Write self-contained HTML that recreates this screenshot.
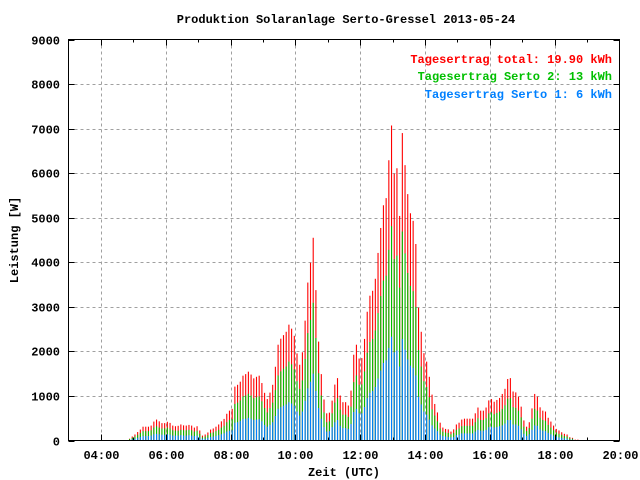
<!DOCTYPE html>
<html><head><meta charset="utf-8"><style>
html,body{margin:0;padding:0;background:#fff;}
svg{display:block;font-family:"Liberation Mono","DejaVu Sans Mono",monospace;font-weight:bold;}
</style></head><body>
<svg id="chart" width="640" height="480" viewBox="0 0 640 480" xmlns="http://www.w3.org/2000/svg">
<rect x="0" y="0" width="640" height="480" fill="#fff"/>
<text x="346" y="23" font-size="12" text-anchor="middle">Produktion Solaranlage Serto-Gressel 2013-05-24</text>
<g id="grid"></g>
<g id="bars"></g>
<rect x="68.5" y="39.5" width="551" height="401" fill="none" stroke="#000" stroke-width="1"/>
<g id="axes"></g>
<text x="344" y="476" font-size="12" text-anchor="middle">Zeit (UTC)</text>
<text x="18" y="240" font-size="12" text-anchor="middle" transform="rotate(-90 18 240)">Leistung [W]</text>
<text x="612" y="63" font-size="12" text-anchor="end" fill="#ff0000">Tagesertrag total: 19.90 kWh</text>
<text x="612" y="80" font-size="12" text-anchor="end" fill="#00c000">Tagesertrag Serto 2: 13 kWh</text>
<text x="612" y="98" font-size="12" text-anchor="end" fill="#0080ff">Tagesertrag Serto 1: 6 kWh</text>
</svg>
<script>
const startMinute = 293;
const stepMinutes = 5;
const yTicks = [0,1000,2000,3000,4000,5000,6000,7000,8000,9000];
const xTickLabels = ["04:00","06:00","08:00","10:00","12:00","14:00","16:00","18:00","20:00"];
const totalW = [40,90,135,190,245,310,310,310,335,425,470,430,390,390,420,395,335,320,330,360,340,335,350,335,290,320,225,110,135,180,245,270,310,360,430,485,600,670,710,
1210,1250,1320,1455,1490,1545,1480,1395,1430,1455,1290,1070,930,1075,1250,1655,2150,2285,2365,2440,2600,2510,2350,1955,1700,1980,2690,3545,3990,4550,3375,2220,1490,920,610,625,895,1255,1400,
1010,860,860,785,1120,1925,2150,
1840,1850,2280,2890,3250,3360,3630,4210,4770,5280,5440,6290,7070,5990,6110,5040,6900,6180,5530,5100,4930,4410,2980,2440,1960,1770,1430,1030,820,630,400,290,260,250,200,250,360,400,470,490,490,490,490,
610,740,670,670,740,900,930,870,910,955,1045,1160,1380,1400,1100,1080,985,760,450,310,410,720,1045,985,745,670,650,510,425,335,260,225,185,150,135,75,60,20,20];
const serto12W = [30,60,90,130,170,210,210,210,230,290,320,290,270,270,290,270,230,220,220,240,230,230,240,230,200,220,150,70,90,120,170,180,210,240,290,330,410,460,480,
820,850,900,990,1010,1050,1010,950,970,990,880,730,630,730,850,1130,1460,1550,1610,1660,1770,1710,1600,1330,1160,1350,1830,2410,2710,3090,2300,1510,1010,630,410,430,610,850,950,
690,580,580,530,760,1310,1460,
1250,1260,1550,1970,2210,2280,2470,2860,3240,3590,3700,4280,4810,4070,4150,3430,4690,4200,3760,3470,3350,3000,2030,1660,1330,1200,970,700,560,430,270,200,180,170,140,170,240,270,320,330,330,330,330,
410,500,460,460,500,610,630,590,620,650,710,790,940,950,750,730,670,520,310,210,280,490,710,670,510,460,440,350,290,230,180,150,130,100,90,50,40,10,10];
const serto1W = [10,30,40,60,80,100,100,100,110,140,150,140,130,130,140,130,110,110,110,120,110,110,120,110,100,110,70,40,40,60,80,90,100,120,140,160,200,220,230,
400,410,440,480,490,510,490,460,470,480,430,350,310,350,410,550,710,750,780,810,860,830,780,650,560,650,890,1170,1320,1500,1110,730,490,300,200,210,300,410,460,
330,280,280,260,370,640,710,
610,610,750,950,1070,1110,1200,1390,1570,1740,1800,2080,2330,1980,2020,1660,2280,2040,1820,1680,1630,1460,980,810,650,580,470,340,270,210,130,100,90,80,70,80,120,130,160,160,160,160,160,
200,240,220,220,240,300,310,290,300,320,340,380,460,460,360,360,330,250,150,100,140,240,340,330,250,220,210,170,140,110,90,70,60,50,40,20,20,10,10];

const NS = "http://www.w3.org/2000/svg";
const plotL = 68.5, plotR = 619.5, plotT = 39.5, plotB = 440.5;
const xMin = 180, xMax = 1200;
const yMax = 9000;
function xScale(min){ return plotL + (min - xMin) / (xMax - xMin) * (plotR - plotL); }
function yScale(v){ return plotB - v / yMax * (plotB - plotT); }
function mk(tag, attrs, parent){ const e = document.createElementNS(NS, tag); for (const k in attrs) e.setAttribute(k, attrs[k]); parent.appendChild(e); return e; }

const grid = document.getElementById('grid');
const axes = document.getElementById('axes');
yTicks.forEach(function(v){
  const y = Math.round(yScale(v)) + 0.5;
  if (v > 0 && v < yMax) {
    const g = mk('line', {x1: plotL, x2: plotR, y1: y, y2: y, stroke: '#a0a0a0', 'stroke-dasharray': '3,3'}, grid);
    
    
  }
  const t = mk('line', {x1: plotL, x2: plotL + 6, y1: y, y2: y, stroke: '#000'}, axes);
  
  
  const t2 = mk('line', {x1: plotR - 6, x2: plotR, y1: y, y2: y, stroke: '#000'}, axes);
  
  
  const lab = mk('text', {x: 60, y: y + 4, 'font-size': 12, 'text-anchor': 'end'}, axes);
  lab.textContent = String(v);
  
  
});
for (let h = 4; h <= 19; h++) {
  const x = Math.round(xScale(h * 60)) + 0.5;
  const major = (h % 2 === 0);
  const len = major ? 6 : 3;
  const a = mk('line', {x1: x, x2: x, y1: plotB - len, y2: plotB, stroke: '#000'}, axes);
  
  
  const b = mk('line', {x1: x, x2: x, y1: plotT, y2: plotT + len, stroke: '#000'}, axes);
  
  
}
xTickLabels.forEach(function(lbl){
  const parts = lbl.split(':');
  const m = parseInt(parts[0], 10) * 60 + parseInt(parts[1], 10);
  const x = Math.round(xScale(m)) + 0.5;
  if (m < xMax) {
    const g = mk('line', {x1: x, x2: x, y1: plotT, y2: plotB, stroke: '#a0a0a0', 'stroke-dasharray': '3,3'}, grid);
    
    
  }
  const lab = mk('text', {x: x, y: 459, 'font-size': 12, 'text-anchor': 'middle'}, axes);
  lab.textContent = lbl;
  
  
});

const bars = document.getElementById('bars');
const bw = 1.1;
totalW.forEach(function(t, i){
  const x = xScale(startMinute + i * stepMinutes) - bw / 2;
  const series = [[t, '#ff0000', 'bar-total'], [serto12W[i], '#00c000', 'bar-serto-2'], [serto1W[i], '#0080ff', 'bar-serto-1']];
  series.forEach(function(s){
    const y = yScale(s[0]);
    const r = mk('rect', {x: x, y: y, width: bw, height: plotB - 0.5 - y, fill: s[1]}, bars);
    
    
  });
});
</script>
</body></html>
